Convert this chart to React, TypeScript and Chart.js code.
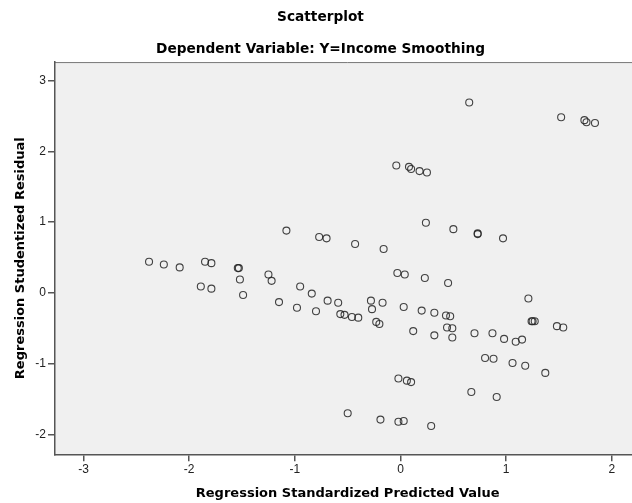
import React, { useEffect, useRef } from "react";
import { Chart, registerables } from "chart.js";

Chart.register(...registerables);

// Regression standardized predicted values (x) and studentized residuals (y)
const predictedValues = [
  -1.08, -0.77, -0.7, 0.65, 1.52, 1.74, 1.76, 1.84, -0.04, 0.08,
  0.1, 0.18, 0.25, 0.24, 0.5, 0.73, 0.73, 0.97, -0.43, -0.16,
  -2.38, -2.24, -2.09, -1.85, -1.79, -1.54, -1.53, -1.52, -1.89, -1.79,
  -1.49, -1.25, -1.22, -1.15, -0.95, -0.84, -0.98, -0.8, -0.69, -0.59,
  -0.57, -0.53, -0.46, -0.4, -0.5, -0.03, 0.04, 0.23, 0.45, -0.28,
  -0.17, -0.27, 0.03, 0.2, 0.32, 0.43, 0.47, -0.23, -0.2, 0.12,
  0.32, 0.44, 0.49, 0.49, 0.7, 0.87, 0.98, 1.09, 1.15, 1.21,
  1.25, 1.24, 1.27, 1.48, 1.54, 0.8, 0.88, 1.06, 1.18, 1.37,
  -0.02, 0.06, 0.1, 0.67, 0.91, -0.19, -0.02, 0.03, 0.29,
];
const studentizedResiduals = [
  0.88, 0.79, 0.77, 2.69, 2.48, 2.44, 2.41, 2.4, 1.8, 1.78,
  1.75, 1.72, 1.7, 0.99, 0.9, 0.84, 0.83, 0.77, 0.69, 0.62,
  0.44, 0.4, 0.36, 0.44, 0.42, 0.35, 0.35, 0.19, 0.09, 0.06,
  -0.03, 0.26, 0.17, -0.13, 0.09, -0.01, -0.21, -0.26, -0.11, -0.14,
  -0.3, -0.31, -0.34, -0.35, -1.7, 0.28, 0.26, 0.21, 0.14, -0.11,
  -0.14, -0.23, -0.2, -0.25, -0.28, -0.32, -0.33, -0.41, -0.44, -0.54,
  -0.6, -0.49, -0.5, -0.63, -0.57, -0.57, -0.65, -0.69, -0.66, -0.08,
  -0.4, -0.4, -0.4, -0.47, -0.49, -0.92, -0.93, -0.99, -1.03, -1.13,
  -1.21, -1.24, -1.26, -1.4, -1.47, -1.79, -1.82, -1.81, -1.88,
];

const xTicks = [-3, -2, -1, 0, 1, 2];
const yTicks = [-2, -1, 0, 1, 2, 3];
const xRange = [-3.27, 2.27];
const yRange = [-2.28, 3.26];

const chartTitle = "Scatterplot";
const chartSubtitle = "Dependent Variable: Y=Income Smoothing";
const xAxisTitle = "Regression Standardized Predicted Value";
const yAxisTitle = "Regression Studentized Residual";

const plotFrame = {
  id: "plotFrame",
  beforeDraw(chart: any) {
    const { ctx, chartArea } = chart;
    if (!chartArea) return;
    ctx.save();
    ctx.fillStyle = "#f0f0f0";
    ctx.fillRect(
      chartArea.left,
      chartArea.top,
      chartArea.right - chartArea.left,
      chartArea.bottom - chartArea.top
    );
    ctx.strokeStyle = "#777777";
    ctx.lineWidth = 1;
    ctx.beginPath();
    ctx.moveTo(chartArea.left, chartArea.top + 0.5);
    ctx.lineTo(chartArea.right, chartArea.top + 0.5);
    ctx.stroke();
    ctx.restore();
  },
};

export default function App() {
  const canvasRef = useRef<HTMLCanvasElement | null>(null);

  useEffect(() => {
    const canvas = canvasRef.current;
    if (!canvas) return;
    const points = predictedValues.map((x, i) => ({ x, y: studentizedResiduals[i] }));
    const titleFont = { family: "'DejaVu Sans', sans-serif", size: 13.7, weight: "bold" as const, lineHeight: 1.2 };
    const axisTitleFont = { family: "'DejaVu Sans', sans-serif", size: 13, weight: "bold" as const, lineHeight: 1.2 };
    const tickFont = { family: "'Liberation Sans', Arial, sans-serif", size: 12, lineHeight: 1.2 };

    const chart = new Chart(canvas, {
      type: "scatter",
      data: {
        datasets: [
          {
            data: points,
            pointStyle: "circle",
            pointRadius: 3.5,
            pointHoverRadius: 3.5,
            borderWidth: 1.1,
            borderColor: "rgba(35,35,35,0.85)",
            backgroundColor: "rgba(0,0,0,0)",
          },
        ],
      },
      options: {
        responsive: false,
        animation: false,
        devicePixelRatio: 1,
        events: [],
        layout: { padding: { left: 0, right: 4, top: 0, bottom: 0 } },
        plugins: {
          legend: { display: false },
          tooltip: { enabled: false },
          title: {
            display: true,
            text: chartTitle,
            color: "#000000",
            font: titleFont,
            padding: { top: 9.4, bottom: 0 },
          },
          subtitle: {
            display: true,
            text: chartSubtitle,
            color: "#000000",
            font: titleFont,
            padding: { top: 15.8, bottom: 4 },
          },
        },
        scales: {
          x: {
            type: "linear",
            min: xRange[0],
            max: xRange[1],
            afterBuildTicks: (scale: any) => {
              scale.ticks = xTicks.map((v) => ({ value: v }));
            },
            afterFit: (scale: any) => {
              scale.height = 48.7;
            },
            ticks: {
              font: tickFont,
              color: "#222222",
              padding: 1,
              maxRotation: 0,
              autoSkip: false,
            },
            grid: {
              display: true,
              drawOnChartArea: false,
              drawTicks: true,
              tickLength: 7,
              color: "#555555",
              lineWidth: 1.5,
            },
            border: { display: true, color: "#555555", width: 1.5 },
            title: {
              display: true,
              text: xAxisTitle,
              color: "#000000",
              font: axisTitleFont,
              padding: { top: 0, bottom: 1.5 },
            },
          },
          y: {
            type: "linear",
            min: yRange[0],
            max: yRange[1],
            afterBuildTicks: (scale: any) => {
              scale.ticks = yTicks.map((v) => ({ value: v }));
            },
            afterFit: (scale: any) => {
              scale.width = 55;
            },
            ticks: {
              font: tickFont,
              color: "#222222",
              padding: 2,
              autoSkip: false,
            },
            grid: {
              display: true,
              drawOnChartArea: false,
              drawTicks: true,
              tickLength: 7,
              color: "#555555",
              lineWidth: 1.5,
            },
            border: { display: true, color: "#555555", width: 1.5 },
            title: {
              display: true,
              text: yAxisTitle,
              color: "#000000",
              font: axisTitleFont,
              padding: { top: 12.5, bottom: 0 },
            },
          },
        },
      },
      plugins: [plotFrame],
    } as any);

    return () => {
      chart.destroy();
    };
  }, []);

  return (
    <div
      style={{
        position: "fixed",
        left: 0,
        top: 0,
        width: "100vw",
        height: "100vh",
        overflow: "hidden",
        background: "#ffffff",
      }}
    >
      <canvas ref={canvasRef} width={645} height={503} style={{ display: "block" }} />
    </div>
  );
}
